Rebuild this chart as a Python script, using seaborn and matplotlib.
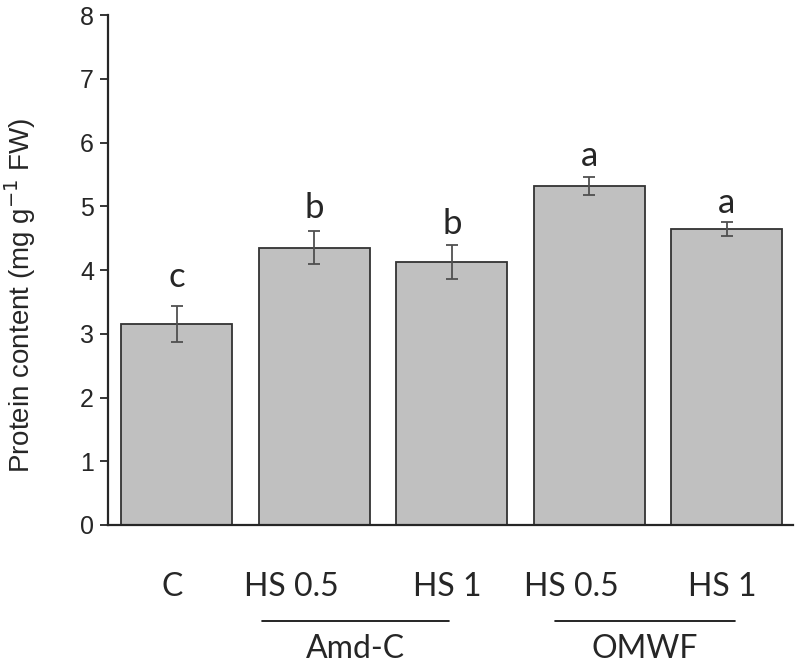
import pandas as pd
import matplotlib.pyplot as plt
import seaborn as sns

# data
groups = ["C", "Amd-C HS 0.5", "Amd-C HS 1", "OMWF HS 0.5", "OMWF HS 1"]
tick_labels = ["C", "HS 0.5", "HS 1", "HS 0.5", "HS 1"]
protein = [3.15, 4.35, 4.13, 5.32, 4.64]
sem = [0.28, 0.26, 0.27, 0.14, 0.11]
letters = ["c", "b", "b", "a", "a"]
letter_y = [3.73, 4.81, 4.56, 5.63, 4.89]

df = pd.DataFrame({"group": groups, "protein": protein, "sem": sem})

sns.set_style("ticks")
plt.rcParams['font.family'] = ['Liberation Sans', 'DejaVu Sans']

fig = plt.figure(figsize=(8, 6.62), dpi=100)
ax = fig.add_axes([0.135, 0.207, 0.856, 0.770])

sns.barplot(x="group", y="protein", data=df, order=groups, color="#c0c0c0",
            edgecolor="#333333", linewidth=1.3, width=0.81, saturation=1,
            errorbar=None, ax=ax)
ax.errorbar(range(len(groups)), df["protein"], yerr=df["sem"], fmt="none",
            ecolor="#505050", elinewidth=1.3, capsize=4.5, capthick=1.3)

for i, (y, l) in enumerate(zip(letter_y, letters)):
    ax.text(i, y, l, ha="center", va="baseline", fontsize=25, family="Lato")

ax.set_ylim(0, 8)
ax.set_xlim(-0.5, 4.48)
ax.set_yticks(range(0, 9))
ax.tick_params(axis="y", labelsize=18, length=6, width=1.3, pad=4)
ax.set_xticks([])
ax.set_xlabel("")
ax.set_ylabel("Protein content (mg g$^{-1}$ FW)", fontsize=20)
ax.yaxis.set_label_coords(-0.102, 0.45)
sns.despine(ax=ax)
for s in ["left", "bottom"]:
    ax.spines[s].set_linewidth(1.6)

# category labels under the bars
label_x = [-0.03, 0.83, 1.97, 2.87, 3.97]
for x, t in zip(label_x, tick_labels):
    ax.text(x, -0.97, t, ha="center", va="center", fontsize=23, family="Lato")

# group lines and names
for (x0, x1), name in [((0.62, 1.98), "Amd-C"), ((2.75, 4.06), "OMWF")]:
    ax.plot([x0, x1], [-1.5, -1.5], color="black", lw=1.2, clip_on=False)
    ax.text((x0 + x1) / 2, -1.94, name, ha="center", va="center",
            fontsize=23, family="Lato")

plt.savefig("out.png", dpi=100)
